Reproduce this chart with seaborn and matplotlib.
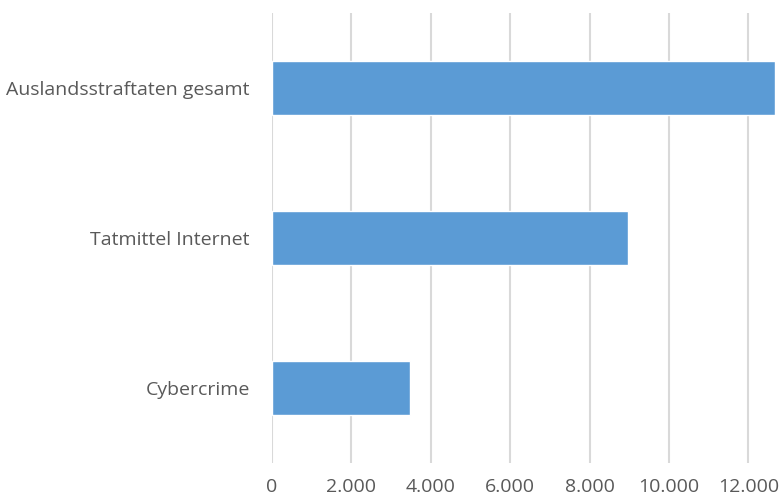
import matplotlib
matplotlib.use("Agg")
import matplotlib.pyplot as plt
import seaborn as sns
import pandas as pd
from matplotlib.ticker import FuncFormatter

categories = ["Auslandsstraftaten gesamt", "Tatmittel Internet", "Cybercrime"]
values = [12670, 8975, 3484]
xticks = [0, 2000, 4000, 6000, 8000, 10000, 12000]

df = pd.DataFrame({"cat": categories, "val": values})

sns.set_theme(style="white")
plt.rcParams['font.family'] = ['Open Sans', 'DejaVu Sans']

fig = plt.figure(figsize=(7.81, 5.0), dpi=100)
ax = fig.add_axes([272/781, 37/500, 503/781, 450/500])

sns.barplot(data=df, x="val", y="cat", orient="h", color="#5B9BD5",
            saturation=1, width=0.36, ax=ax, zorder=3)

ax.set_xlim(0, 12670)
ax.set_xticks(xticks)
ax.xaxis.set_major_formatter(FuncFormatter(lambda v, p: f"{int(v):,}".replace(",", ".")))
ax.grid(axis="x", color="#d9d9d9", linewidth=1.5, zorder=0)
ax.set_axisbelow(True)
for s in ax.spines.values():
    s.set_visible(False)
ax.set_xlabel("")
ax.set_ylabel("")
ax.tick_params(axis="x", length=0, pad=11, labelsize=14, labelcolor="#595959")
ax.tick_params(axis="y", length=0, pad=16, labelsize=14, labelcolor="#595959")

fig.savefig("out.png", dpi=100)
